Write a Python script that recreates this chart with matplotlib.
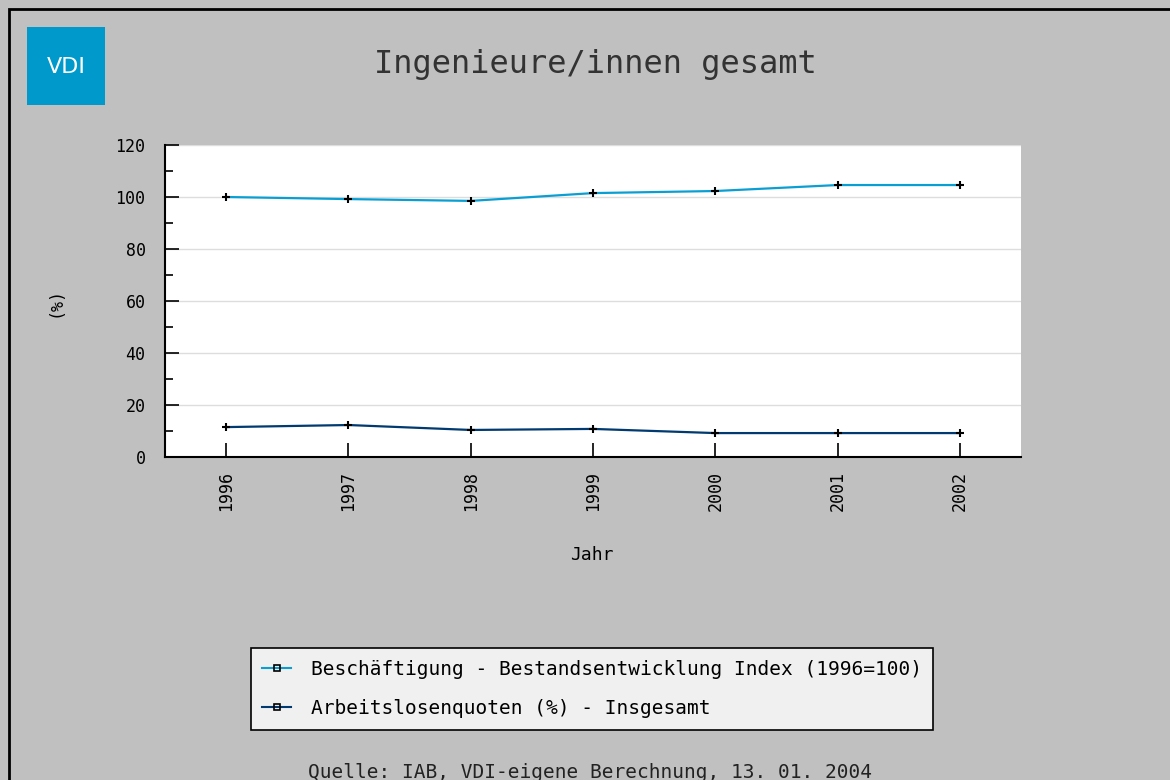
import matplotlib
matplotlib.use('Agg')
import numpy as np
from matplotlib import pyplot as plt
from matplotlib.lines import Line2D
from matplotlib.patches import Rectangle
from matplotlib.ticker import MultipleLocator

# data
jahre = ['1996', '1997', '1998', '1999', '2000', '2001', '2002']
beschaeftigung = [100.0, 99.2, 98.5, 101.5, 102.3, 104.6, 104.6]
arbeitslos = [11.5, 12.3, 10.4, 10.8, 9.2, 9.2, 9.2]
serien = ['Beschäftigung - Bestandsentwicklung Index (1996=100)',
          'Arbeitslosenquoten (%) - Insgesamt']
farben = ['#0a9fd3', '#003a70']

mono = 'DejaVu Sans Mono'
bg = '#c0c0c0'

fig = plt.figure(figsize=(11.7, 7.8), dpi=100, facecolor=bg)

# black frame around the picture (only left/top visible)
fig.patches.append(Rectangle((9/1170, -0.1), 1.2, 1 - 9/780 + 0.1, transform=fig.transFigure,
                             fill=False, edgecolor='black', linewidth=2))

# VDI logo
fig.patches.append(Rectangle((27/1170, 1 - 105/780), 78/1170, 78/780, transform=fig.transFigure,
                             facecolor='#0099cc', edgecolor='none'))
fig.text(66/1170, 1 - 67/780, 'VDI', color='white', fontsize=16, family='DejaVu Sans',
         ha='center', va='center')

fig.text(595/1170, 1 - 65/780, 'Ingenieure/innen gesamt', family=mono, fontsize=23,
         color='#333333', ha='center', va='center')

ax = fig.add_axes([165/1170, 1 - 457/780, (1021 - 165)/1170, (457 - 145)/780])
ax.set_facecolor('white')
x = np.arange(len(jahre))
ax.plot(x, beschaeftigung, color=farben[0], lw=1.6, marker='+', ms=6, mec='black', mew=1.5, zorder=3)
ax.plot(x, arbeitslos, color=farben[1], lw=1.6, marker='+', ms=6, mec='black', mew=1.5, zorder=3)

ax.set_xlim(-0.5, 6.5)
ax.set_ylim(0, 120)
ax.set_xticks(x)
ax.set_xticklabels(jahre, rotation=90, family=mono, fontsize=12)
ax.yaxis.set_major_locator(MultipleLocator(20))
ax.yaxis.set_minor_locator(MultipleLocator(10))
for lab in ax.get_yticklabels():
    lab.set_family(mono)
    lab.set_fontsize(12)
ax.tick_params(direction='in', length=10, width=1.2, color='black', labelcolor='black')
ax.tick_params(axis='y', which='minor', direction='in', length=6, width=1.2)
ax.tick_params(axis='y', pad=14)
ax.tick_params(axis='x', pad=10)
ax.grid(axis='y', which='major', color='#dddddd', lw=1)
ax.set_axisbelow(True)
for s in ['top', 'right']:
    ax.spines[s].set_visible(False)
for s in ['left', 'bottom']:
    ax.spines[s].set_linewidth(1.5)

fig.text(55/1170, 1 - 302/780, '(%)', rotation=90, family=mono, fontsize=12,
         ha='center', va='center')
fig.text(592/1170, 1 - 555/780, 'Jahr', family=mono, fontsize=13, ha='center', va='center')

handles = [Line2D([], [], color=c, lw=1.5, marker='s', ms=5, mfc='none', mec='black', mew=1.2)
           for c in farben]
leg = fig.legend(handles, serien, loc='center', bbox_to_anchor=(592/1170, 1 - 689/780),
                 prop={'family': mono, 'size': 14}, frameon=True, fancybox=False,
                 facecolor='#f0f0f0', edgecolor='black', framealpha=1,
                 handlelength=1.5, borderpad=0.6, labelspacing=1.05, handletextpad=1.0,
                 borderaxespad=0)
leg.get_frame().set_linewidth(1.2)

fig.text(590/1170, 1 - 772/780, 'Quelle: IAB, VDI-eigene Berechnung, 13. 01. 2004',
         family=mono, fontsize=14, color='#222222', ha='center', va='center')

fig.savefig('out.png', dpi=100, facecolor=bg)
